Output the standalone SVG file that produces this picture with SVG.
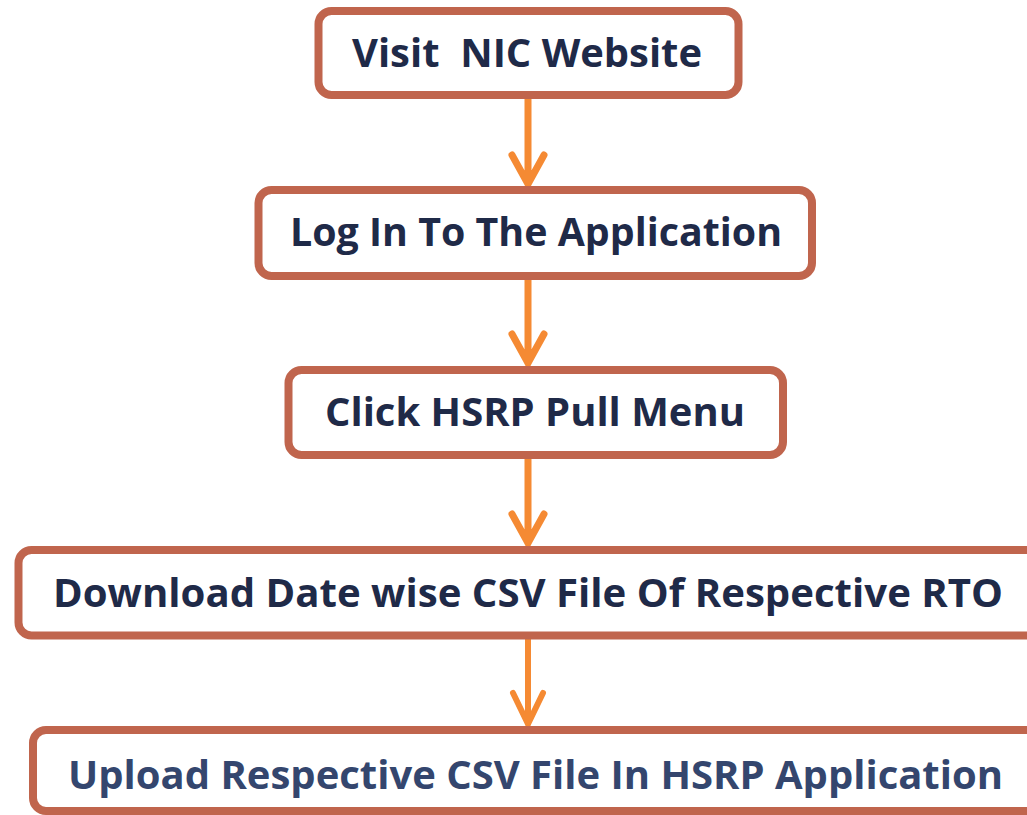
<svg xmlns="http://www.w3.org/2000/svg" width="1027" height="815" viewBox="0 0 1027 815">
<defs>
<style>
.box{fill:#FFFFFF;stroke:#C0654D;stroke-width:8}
.lbl{font-family:"Open Sans","Liberation Sans",sans-serif;font-weight:bold;font-size:39px;fill:#1F2A48;white-space:pre}
.lbl2{fill:#34466E}
.conn{fill:none;stroke:#F58A33;stroke-width:7;stroke-linecap:round;stroke-linejoin:round}
</style>
</defs>
<rect width="1027" height="815" fill="#FFFFFF"/>
<g id="connectors">
<path class="conn" d="M528 97 V184 M512 155 L528 184 L544 155"/>
<path class="conn" d="M528 280 V363 M512 334 L528 363 L544 334"/>
<path class="conn" d="M528 459 V543 M512 514 L528 543 L544 514"/>
<path class="conn" d="M528 639 V724 M513 693 L528 724 L543 693" style="stroke-width:6"/>
</g>
<g id="node1">
<rect class="box" x="318.5" y="11" width="420" height="84" rx="13"/>
<text class="lbl" x="352" y="67" textLength="350" lengthAdjust="spacingAndGlyphs" xml:space="preserve">Visit  NIC Website</text>
</g>
<g id="node2">
<rect class="box" x="258.5" y="190" width="553.5" height="86" rx="13"/>
<text class="lbl" x="290" y="246" textLength="492" lengthAdjust="spacingAndGlyphs">Log In To The Application</text>
</g>
<g id="node3">
<rect class="box" x="288.5" y="370" width="494.5" height="85" rx="13"/>
<text class="lbl" x="325" y="426" textLength="420" lengthAdjust="spacingAndGlyphs">Click HSRP Pull Menu</text>
</g>
<g id="node4">
<rect class="box" x="18.5" y="550" width="1030" height="85.5" rx="13"/>
<text class="lbl" x="53" y="607" textLength="950" lengthAdjust="spacingAndGlyphs">Download Date wise CSV File Of Respective RTO</text>
</g>
<g id="node5">
<rect class="box" x="33" y="730" width="1020" height="81" rx="13"/>
<text class="lbl lbl2" x="68" y="789" textLength="935" lengthAdjust="spacingAndGlyphs">Upload Respective CSV File In HSRP Application</text>
</g>
</svg>
